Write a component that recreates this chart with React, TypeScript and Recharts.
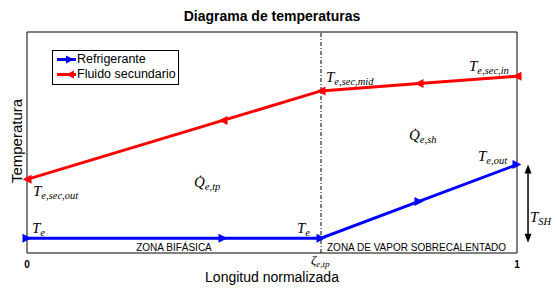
import { LineChart, Line, XAxis, YAxis, ReferenceLine, Legend } from "recharts";

const longitud = [0, 0.4, 0.6, 0.8, 1];
const refrigerante = [0.2, 0.2, 0.2, 0.7, 1.2];
const secundario = [1.0, 1.8, 2.2, 2.3, 2.4];
const xTicks = [0, 1];
const yTicks = [1, 2];
const zetaTp = 0.6;
const tshX = 1.0225;
const tshRange = [1.2, 0.14];

const data = longitud.map((x, i) => ({
  x,
  refrigerante: refrigerante[i],
  secundario: secundario[i],
}));

const BLUE = "#0000ff";
const RED = "#ff0000";
const SANS = "'Liberation Sans', Arial, sans-serif";
const SERIF = "'Liberation Serif', 'Times New Roman', serif";

// triangle marker, dir 1 = points right, -1 = points left
function tri(cx: number, cy: number, dir: number, s = 4.5) {
  return `${cx + dir * s},${cy} ${cx - dir * s},${cy - s} ${cx - dir * s},${cy + s}`;
}

function arrowDot(color: string, dir: number) {
  return (p: any) => (
    <polygon key={`d-${color}-${p.index}`} points={tri(p.cx, p.cy, dir)} fill={color} />
  );
}

function DoubleArrow(props: any) {
  const { x1, y1, y2 } = props;
  const top = Math.min(y1, y2);
  const bot = Math.max(y1, y2);
  return (
    <g>
      <line x1={x1} y1={top + 6} x2={x1} y2={bot - 6} stroke="#000" strokeWidth={1.5} />
      <polygon points={`${x1},${top} ${x1 - 3.5},${top + 9} ${x1 + 3.5},${top + 9}`} fill="#000" />
      <polygon points={`${x1},${bot} ${x1 - 3.5},${bot - 9} ${x1 + 3.5},${bot - 9}`} fill="#000" />
    </g>
  );
}

function MathLabel({ x, y, base, sub, size = 15 }: { x: number; y: number; base: string; sub: string; size?: number }) {
  return (
    <text x={x} y={y} fontFamily={SERIF} fontStyle="italic" fontSize={size} fill="#000">
      {base}
      <tspan fontSize={size * 0.7} dy={3}>
        {sub}
      </tspan>
    </text>
  );
}

function LegendBox() {
  const rows = [
    { name: "Refrigerante", color: BLUE, dir: 1 },
    { name: "Fluido secundario", color: RED, dir: -1 },
  ];
  return (
    <div
      style={{
        border: "1px solid #000",
        background: "#fff",
        width: 125,
        height: 32,
        boxSizing: "content-box",
        fontFamily: SANS,
        fontSize: 12.5,
        lineHeight: "15px",
        paddingTop: 1,
      }}
    >
      {rows.map((r) => (
        <div key={r.name} style={{ display: "flex", alignItems: "center", height: 15 }}>
          <svg width={24} height={15} style={{ flex: "none" }}>
            <line x1={4} y1={7.5} x2={23} y2={7.5} stroke={r.color} strokeWidth={3} />
            <polygon points={tri(17, 7.5, r.dir, 4)} fill={r.color} />
          </svg>
          <span style={{ whiteSpace: "nowrap" }}>{r.name}</span>
        </div>
      ))}
    </div>
  );
}

export default function App() {
  return (
    <div style={{ position: "absolute", left: 0, top: 0, width: 556, height: 289, background: "#fff" }}>
      <LineChart
        width={556}
        height={289}
        data={data}
        margin={{ top: 32, right: 39, left: 27, bottom: 16 }}
        style={{ fontFamily: SANS }}
      >
        <XAxis
          dataKey="x"
          type="number"
          domain={[0, 1]}
          ticks={xTicks}
          height={20}
          stroke="#000"
          tickLine={false}
          tick={{ fontSize: 10, fontWeight: "bold", fill: "#000" }}
          interval={0}
        />
        <YAxis
          yAxisId="l"
          domain={[0, 3]}
          ticks={yTicks}
          width={1}
          mirror
          tickSize={5}
          tick={false}
          stroke="#000"
        />
        <YAxis
          yAxisId="r"
          orientation="right"
          domain={[0, 3]}
          ticks={yTicks}
          width={1}
          mirror
          tickSize={5}
          tick={false}
          stroke="#000"
        />
        <ReferenceLine yAxisId="l" y={3} stroke="#000" strokeWidth={1} />
        <ReferenceLine yAxisId="l" x={zetaTp} stroke="#000" strokeWidth={1} strokeDasharray="4 2 1 2" />
        <ReferenceLine
          yAxisId="l"
          ifOverflow="visible"
          segment={[
            { x: tshX, y: tshRange[0] },
            { x: tshX, y: tshRange[1] },
          ]}
          shape={DoubleArrow}
        />
        <Line
          yAxisId="l"
          dataKey="secundario"
          name="Fluido secundario"
          stroke={RED}
          strokeWidth={3}
          dot={arrowDot(RED, -1)}
          activeDot={false}
          isAnimationActive={false}
        />
        <Line
          yAxisId="l"
          dataKey="refrigerante"
          name="Refrigerante"
          stroke={BLUE}
          strokeWidth={3}
          dot={arrowDot(BLUE, 1)}
          activeDot={false}
          isAnimationActive={false}
        />
        <Legend
          layout="horizontal"
          verticalAlign="middle"
          align="center"
          content={() => <LegendBox />}
          wrapperStyle={{ left: 52, top: 50, width: "auto", height: "auto" }}
        />
      </LineChart>
      <svg
        width={556}
        height={289}
        style={{ position: "absolute", left: 0, top: 0, pointerEvents: "none" }}
      >
        <text x={272} y={21} textAnchor="middle" fontFamily={SANS} fontSize={14} fontWeight="bold" fill="#000">
          Diagrama de temperaturas
        </text>
        <text x={272} y={282} textAnchor="middle" fontFamily={SANS} fontSize={14} fill="#000">
          Longitud normalizada
        </text>
        <text
          x={0}
          y={0}
          transform="translate(22,141) rotate(-90)"
          textAnchor="middle"
          fontFamily={SANS}
          fontSize={15}
          fill="#000"
        >
          Temperatura
        </text>
        <text x={174} y={251} textAnchor="middle" fontFamily={SANS} fontSize={10} fill="#000">
          ZONA BIFÁSICA
        </text>
        <text x={327} y={251} fontFamily={SANS} fontSize={10} fill="#000">
          ZONA DE VAPOR SOBRECALENTADO
        </text>
        <MathLabel x={33} y={196} base="T" sub="e,sec,out" />
        <MathLabel x={32} y={233} base="T" sub="e" />
        <MathLabel x={297} y={233} base="T" sub="e" />
        <MathLabel x={311} y={264} base="ζ" sub="e,tp" size={13} />
        <MathLabel x={194} y={187} base={"Q\u0307"} sub="e,tp" />
        <MathLabel x={409} y={140} base={"Q\u0307"} sub="e,sh" />
        <MathLabel x={326} y={82} base="T" sub="e,sec,mid" />
        <MathLabel x={469} y={71} base="T" sub="e,sec,in" />
        <MathLabel x={478} y={161} base="T" sub="e,out" />
        <MathLabel x={530} y={222} base="T" sub="SH" />
      </svg>
    </div>
  );
}
